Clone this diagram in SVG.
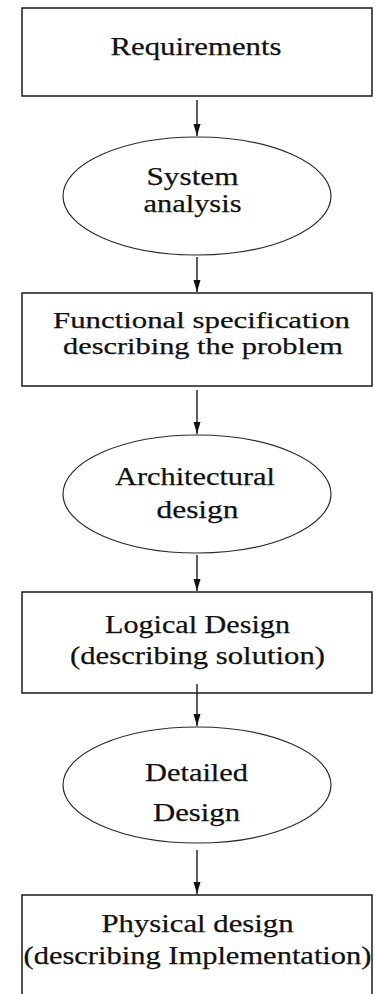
<svg xmlns="http://www.w3.org/2000/svg" width="375" height="994" viewBox="0 0 375 994">
  <style>
    .box { fill: #ffffff; stroke: #1a1a1a; stroke-width: 1.5; }
    .oval { fill: #ffffff; stroke: #2a2a2a; stroke-width: 1.2; }
    .lbl { font-family: "Liberation Serif", "Times New Roman", serif; font-size: 26px; fill: #111111; stroke: #111111; stroke-width: 0.25; text-anchor: middle; }
    .tight { font-size: 24px; }
    .flow { stroke: #1a1a1a; stroke-width: 1.4; fill: none; marker-end: url(#head); }
  </style>
  <defs>
    <marker id="head" markerUnits="userSpaceOnUse" markerWidth="14" markerHeight="8" refX="13" refY="4" orient="auto" viewBox="0 0 14 8">
      <path d="M1,0.5 L1,7.5 L13,4 Z" fill="#111111"/>
    </marker>
  </defs>
  <rect width="375" height="994" fill="#ffffff"/>

  <!-- process steps -->
  <g id="requirements">
    <rect class="box" x="22" y="8" width="350" height="88"/>
    <text class="lbl" x="196" y="55" textLength="171" lengthAdjust="spacingAndGlyphs">Requirements</text>
  </g>

  <g id="system-analysis">
    <ellipse class="oval" cx="197" cy="196" rx="134" ry="59"/>
    <text class="lbl" x="192.5" y="185" textLength="92" lengthAdjust="spacingAndGlyphs">System</text>
    <text class="lbl" x="192.5" y="212" textLength="98" lengthAdjust="spacingAndGlyphs">analysis</text>
  </g>

  <g id="functional-specification">
    <rect class="box" x="22" y="293" width="350" height="93"/>
    <text class="lbl tight" x="201.5" y="328" textLength="297" lengthAdjust="spacingAndGlyphs">Functional specification</text>
    <text class="lbl tight" x="203" y="354" textLength="280" lengthAdjust="spacingAndGlyphs">describing the problem</text>
  </g>

  <g id="architectural-design">
    <ellipse class="oval" cx="197" cy="494" rx="134" ry="59"/>
    <text class="lbl" x="195" y="485" textLength="160" lengthAdjust="spacingAndGlyphs">Architectural</text>
    <text class="lbl" x="197.5" y="518" textLength="82" lengthAdjust="spacingAndGlyphs">design</text>
  </g>

  <g id="logical-design">
    <rect class="box" x="22" y="592" width="350" height="101"/>
    <text class="lbl" x="197.5" y="633" textLength="185" lengthAdjust="spacingAndGlyphs">Logical Design</text>
    <text class="lbl" x="197.5" y="664" textLength="255" lengthAdjust="spacingAndGlyphs">(describing solution)</text>
  </g>

  <g id="detailed-design">
    <ellipse class="oval" cx="197" cy="785" rx="134" ry="58"/>
    <text class="lbl" x="196.5" y="780.5" textLength="103" lengthAdjust="spacingAndGlyphs">Detailed</text>
    <text class="lbl" x="196.5" y="821" textLength="87" lengthAdjust="spacingAndGlyphs">Design</text>
  </g>

  <g id="physical-design">
    <rect class="box" x="22" y="895" width="350" height="110"/>
    <text class="lbl" x="197.5" y="932" textLength="192" lengthAdjust="spacingAndGlyphs">Physical design</text>
    <text class="lbl" x="197.5" y="964" textLength="348" lengthAdjust="spacingAndGlyphs">(describing Implementation)</text>
  </g>

  <!-- connectors -->
  <g id="connectors">
    <line class="flow" x1="197" y1="100" x2="197" y2="136"/>
    <line class="flow" x1="197" y1="257" x2="197" y2="292"/>
    <line class="flow" x1="197" y1="390" x2="197" y2="434"/>
    <line class="flow" x1="197" y1="555" x2="197" y2="591"/>
    <line class="flow" x1="197" y1="684" x2="197" y2="726"/>
    <line class="flow" x1="197" y1="850" x2="197" y2="894"/>
  </g>
</svg>
